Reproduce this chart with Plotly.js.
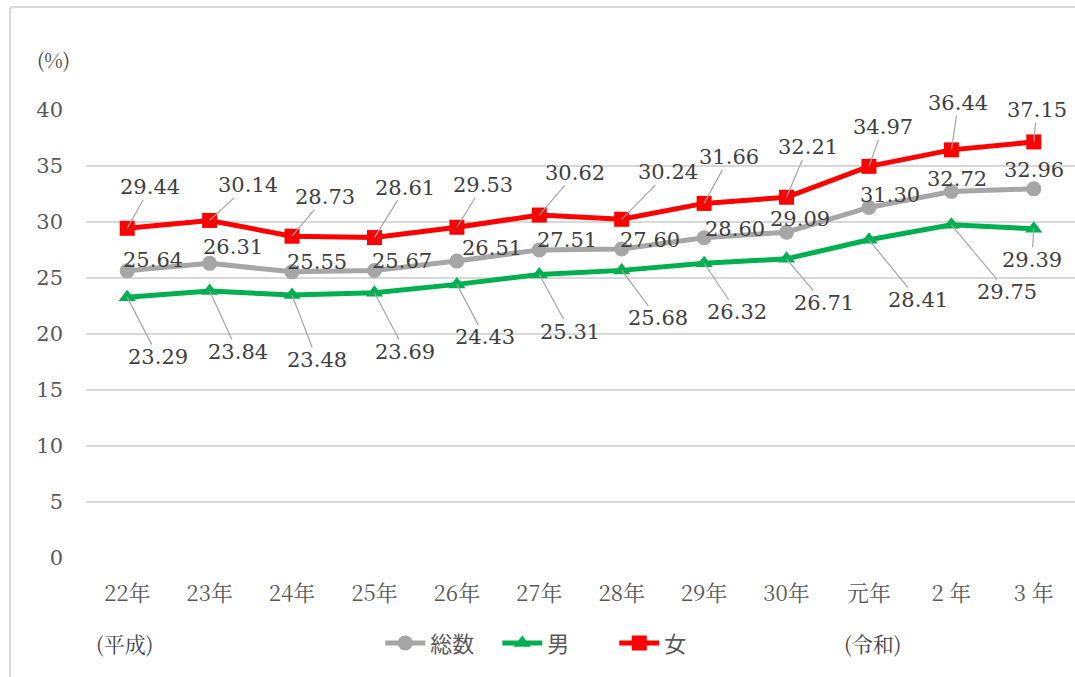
<!DOCTYPE html>
<html>
<head>
<meta charset="utf-8">
<script src="https://cdn.plot.ly/plotly-3.0.1.min.js"></script>
<style>
  html, body { margin: 0; padding: 0; background: #fff; }
  #wrap { position: relative; width: 1075px; height: 677px; overflow: hidden; }
  #chart { width: 1075px; height: 677px; }
  #frame { position: absolute; left: 9px; top: 6px; width: 1100px; height: 700px;
           border-left: 2px solid #d9d9d9; border-top: 2px solid #d9d9d9; border-radius: 4px;
           pointer-events: none; }
</style>
</head>
<body>
<div id="wrap">
  <div id="chart"></div>
  <div id="frame"></div>
</div>
<script>
// ---- data ----
const categories = ["22年", "23年", "24年", "25年", "26年", "27年", "28年", "29年", "30年", "元年", "2 年", "3 年"];
const seriesNames = ["総数", "男", "女"];
const totalValues = [25.64, 26.31, 25.55, 25.67, 26.51, 27.51, 27.60, 28.60, 29.09, 31.30, 32.72, 32.96];
const maleValues  = [23.29, 23.84, 23.48, 23.69, 24.43, 25.31, 25.68, 26.32, 26.71, 28.41, 29.75, 29.39];
const femaleValues = [29.44, 30.14, 28.73, 28.61, 29.53, 30.62, 30.24, 31.66, 32.21, 34.97, 36.44, 37.15];
const yTickValues = [0, 5, 10, 15, 20, 25, 30, 35, 40];

// ---- label placement (pixel offsets of each data label from its point) ----
const totalOffsets = [[26,-11],[23,-16],[25,-10],[28,-10],[35,-13],[28,-10],[28,-9],[31,-9],[13,-13],[21,-12],[6,-13],[0,-19]];
const maleOffsets  = [[31,60],[28,61],[25,65],[31,59],[28,53],[31,57],[36,48],[33,49],[37,44],[49,60],[56,67],[-2,31]];
const femaleOffsets = [[23,-41],[38,-35],[33,-39],[31,-50],[26,-42],[36,-42],[46,-47],[25,-46],[21,-50],[14,-39],[7,-47],[3,-32]];

const NUMFONT = "DejaVu Serif";
const MINCHO = "Noto Serif CJK JP";
const GOTHIC = "Noto Sans CJK JP";

const xIdx = categories.map((_, i) => i);

const traces = [
  { name: seriesNames[0], x: xIdx, y: totalValues, type: 'scatter', mode: 'lines+markers',
    line: { color: '#a6a6a6', width: 5 }, marker: { symbol: 'circle', size: 15, color: '#a6a6a6' } },
  { name: seriesNames[1], x: xIdx, y: maleValues, type: 'scatter', mode: 'lines+markers',
    line: { color: '#00b050', width: 5 }, marker: { symbol: 'triangle-up', size: 15, color: '#00b050' } },
  { name: seriesNames[2], x: xIdx, y: femaleValues, type: 'scatter', mode: 'lines+markers',
    line: { color: '#ff0000', width: 5 }, marker: { symbol: 'square', size: 15, color: '#ff0000' } }
];

function labels(values, offsets) {
  return values.map((v, i) => ({
    x: i, y: v, xref: 'x', yref: 'y',
    text: v.toFixed(2),
    showarrow: true, arrowhead: 0, arrowwidth: 1.2, arrowcolor: '#a6a6a6',
    ax: offsets[i][0], ay: offsets[i][1], standoff: 0, borderpad: 0,
    font: { family: NUMFONT, size: 21, color: '#404040' }
  }));
}

const annotations = [].concat(
  labels(totalValues, totalOffsets),
  labels(maleValues, maleOffsets),
  labels(femaleValues, femaleOffsets),
  [
    { text: '(%)', xref: 'paper', yref: 'paper', x: -0.033, y: 1.112, xanchor: 'center', yanchor: 'middle',
      showarrow: false, font: { family: MINCHO, size: 20, color: '#404040' } },
    { text: '(平成)', xref: 'paper', yref: 'paper', x: 0.039, y: -0.19, xanchor: 'center', yanchor: 'middle',
      showarrow: false, font: { family: MINCHO, size: 21, color: '#404040' } },
    { text: '(令和)', xref: 'paper', yref: 'paper', x: 0.795, y: -0.19, xanchor: 'center', yanchor: 'middle',
      showarrow: false, font: { family: MINCHO, size: 21, color: '#404040' } }
  ]
);

const layout = {
  width: 1075, height: 677,
  margin: { l: 86, r: 0, t: 110, b: 119 },
  paper_bgcolor: '#ffffff', plot_bgcolor: '#ffffff',
  showlegend: true,
  legend: { orientation: 'h', x: 0.475, xanchor: 'center', y: -0.19, yanchor: 'middle',
            font: { family: GOTHIC, size: 22, color: '#595959' }, itemwidth: 40, entrywidth: 62,
            tracegroupgap: 0 },
  xaxis: {
    range: [-0.5, 11.5], tickmode: 'array', tickvals: xIdx, ticktext: categories,
    showgrid: false, zeroline: false, showline: false, ticks: '',
    ticklabelstandoff: 20,
    tickfont: { family: MINCHO, size: 22, color: '#595959' }, fixedrange: true
  },
  yaxis: {
    range: [0, 40], tickmode: 'array', tickvals: yTickValues,
    showgrid: true, gridcolor: '#d9d9d9', gridwidth: 1.5, zeroline: false, showline: false, ticks: '',
    ticklabelstandoff: 22,
    tickfont: { family: NUMFONT, size: 21, color: '#595959' }, fixedrange: true
  },
  annotations: annotations
};

Plotly.newPlot('chart', traces, layout, { displayModeBar: false, staticPlot: true });
</script>
</body>
</html>
